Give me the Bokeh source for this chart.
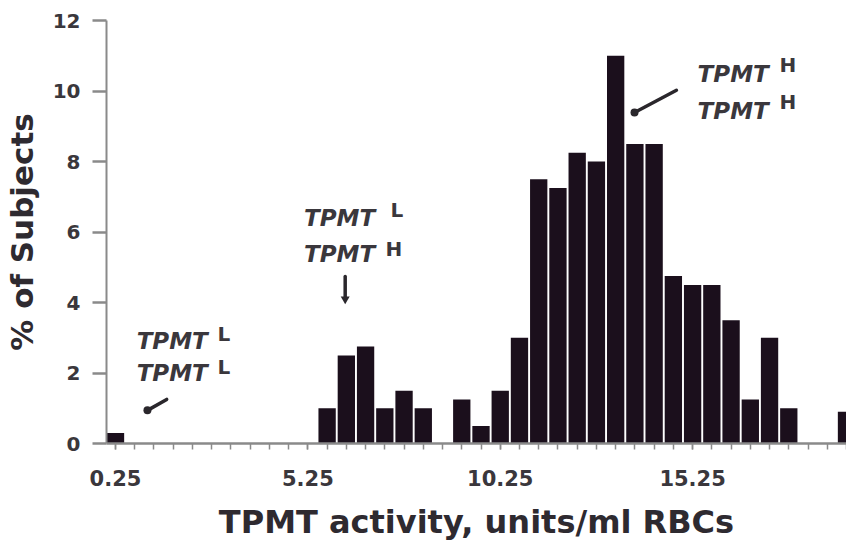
from bokeh.plotting import figure
from bokeh.models import ColumnDataSource, FixedTicker
from bokeh.core.properties import value
from bokeh.embed import file_html
from bokeh.resources import INLINE

# ---- data ----
bin_centers = [0.25, 0.75, 1.25, 1.75, 2.25, 2.75, 3.25, 3.75, 4.25, 4.75,
               5.25, 5.75, 6.25, 6.75, 7.25, 7.75, 8.25, 8.75, 9.25, 9.75,
               10.25, 10.75, 11.25, 11.75, 12.25, 12.75, 13.25, 13.75, 14.25, 14.75,
               15.25, 15.75, 16.25, 16.75, 17.25, 17.75, 18.25, 18.75, 19.25]
pct_subjects = [0.3, 0, 0, 0, 0, 0, 0, 0, 0, 0,
                0, 1.0, 2.5, 2.75, 1.0, 1.5, 1.0, 0, 1.25, 0.5,
                1.5, 3.0, 7.5, 7.25, 8.25, 8.0, 11.0, 8.5, 8.5, 4.75,
                4.5, 4.5, 3.5, 1.25, 3.0, 1.0, 0, 0, 0.9]
x_tick_labels = [0.25, 5.25, 10.25, 15.25]
y_ticks = [0, 2, 4, 6, 8, 10, 12]

# annotation texts (genotype labels)
ann_main = ["TPMT", "TPMT", "TPMT", "TPMT", "TPMT", "TPMT"]
ann_sup = ["L", "L", "L", "H", "H", "H"]

# annotation anchor positions (data units)
ann_x = [0.80, 0.80, 5.15, 5.15, 15.38, 15.38]
ann_y = [2.92, 1.99, 6.41, 5.39, 10.47, 9.43]
sup_x = [2.90, 2.90, 7.40, 7.27, 17.51, 17.51]
sup_y = [3.12, 2.16, 6.61, 5.53, 10.75, 9.70]

# pointer lines (data units)
ptr_x0 = [1.08, 6.22, 13.74]
ptr_y0 = [0.94, 4.10, 9.39]
ptr_x1 = [1.58, 6.22, 14.83]
ptr_y1 = [1.25, 4.74, 10.02]

BAR = "#1b0f1c"
TXT = "#3a373c"
AXC = "#8a8a8a"

p = figure(width=846, height=546, x_range=(0.016, 19.25), y_range=(0, 12),
           output_backend="svg", toolbar_location=None,
           min_border_left=106, min_border_right=0, min_border_top=20,
           min_border_bottom=103)
p.outline_line_color = None
p.grid.visible = False
p.background_fill_color = "white"

src = ColumnDataSource(dict(x=bin_centers, top=pct_subjects))
p.vbar(x="x", top="top", width=0.45, source=src, fill_color=BAR, line_color=None)

# annotations
p.text(x=ann_x, y=ann_y, text=ann_main, text_font=value("DejaVu Sans"),
       text_font_style="bold italic", text_font_size="23px", text_color=TXT,
       text_baseline="alphabetic", text_align="left")
p.text(x=sup_x, y=sup_y, text=ann_sup, text_font=value("DejaVu Sans"),
       text_font_style="bold", text_font_size="20px", text_color=TXT,
       text_baseline="alphabetic", text_align="left")
p.segment(x0=ptr_x0, y0=ptr_y0, x1=ptr_x1, y1=ptr_y1, line_color="#2a272c",
          line_width=3.5, line_cap="round")
p.scatter(x=[ptr_x0[0], ptr_x0[2]], y=[ptr_y0[0], ptr_y0[2]], size=8,
          marker="circle", fill_color="#2a272c", line_color=None)
p.scatter(x=[ptr_x0[1]], y=[ptr_y0[1]], size=9, marker="inverted_triangle",
          fill_color="#2a272c", line_color=None)

# x axis
xa = p.xaxis[0]
xa.ticker = FixedTicker(ticks=x_tick_labels, minor_ticks=bin_centers)
xa.major_label_overrides = {v: f"{v:.2f}" for v in x_tick_labels}
xa.axis_label = "TPMT activity, units/ml RBCs"
xa.axis_line_color = AXC
xa.axis_line_width = 2.5
xa.major_tick_line_color = AXC
xa.minor_tick_line_color = AXC
xa.major_tick_line_width = 1.5
xa.minor_tick_line_width = 1.5
xa.major_tick_in = 0
xa.major_tick_out = 6
xa.minor_tick_in = 0
xa.minor_tick_out = 6
xa.major_label_standoff = 20
xa.major_label_text_font = "DejaVu Sans"
xa.major_label_text_font_style = "bold"
xa.major_label_text_font_size = "21px"
xa.major_label_text_color = TXT
xa.axis_label_standoff = 14
xa.axis_label_text_font = "DejaVu Sans"
xa.axis_label_text_font_style = "bold"
xa.axis_label_text_font_size = "32px"
xa.axis_label_text_color = "#2e2a30"

# y axis
ya = p.yaxis[0]
ya.ticker = FixedTicker(ticks=y_ticks)
ya.axis_label = "% of Subjects"
ya.axis_line_color = AXC
ya.axis_line_width = 2
ya.major_tick_line_color = AXC
ya.major_tick_line_width = 2.5
ya.major_tick_in = 0
ya.major_tick_out = 14
ya.minor_tick_line_color = None
ya.major_label_standoff = 12
ya.major_label_text_font = "DejaVu Sans"
ya.major_label_text_font_style = "bold"
ya.major_label_text_font_size = "20px"
ya.major_label_text_color = TXT
ya.axis_label_standoff = 10
ya.axis_label_text_font = "DejaVu Sans"
ya.axis_label_text_font_style = "bold"
ya.axis_label_text_font_size = "31px"
ya.axis_label_text_color = "#2e2a30"

open("out.html", "w").write(file_html(p, INLINE))
